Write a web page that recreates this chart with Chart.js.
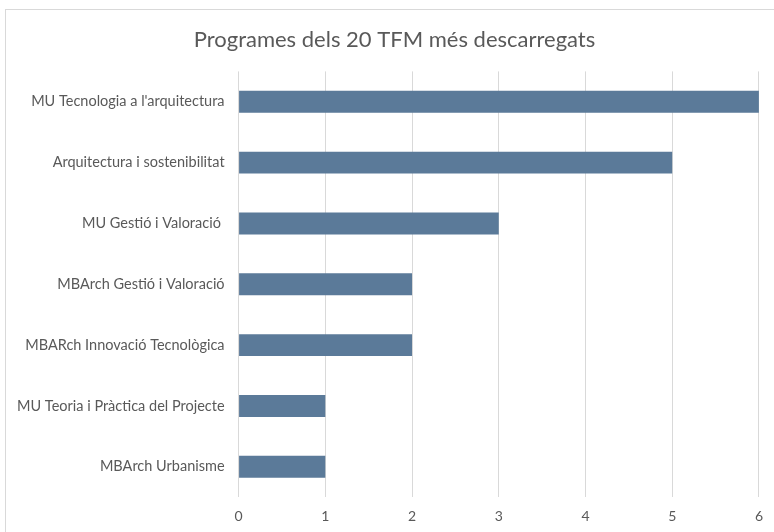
<!DOCTYPE html>
<html>
<head>
<meta charset="utf-8">
<script src="https://cdn.jsdelivr.net/npm/chart.js@4"></script>
<style>
html,body{margin:0;padding:0;background:#fff;width:774px;height:532px;overflow:hidden;}
#frame{position:absolute;left:5px;top:9px;width:800px;height:600px;border:1px solid #d9d9d9;box-sizing:border-box;}
#wrap{position:absolute;left:0;top:0;width:774px;height:532px;}
</style>
</head>
<body>
<div id="frame"></div>
<div id="wrap"><canvas id="c" width="774" height="532"></canvas></div>
<script>
const chartTitle = "Programes dels 20 TFM més descarregats";
const categories = [
  "MU Tecnologia a l'arquitectura",
  "Arquitectura i sostenibilitat",
  "MU Gestió i Valoració ",
  "MBArch Gestió i Valoració",
  "MBARch Innovació Tecnològica",
  "MU Teoria i Pràctica del Projecte",
  "MBArch Urbanisme"
];
const values = [6, 5, 3, 2, 2, 1, 1];
const xTicks = [0, 1, 2, 3, 4, 5, 6];

const titleShift = {
  id: 'titleShift',
  afterLayout(chart) {
    const t = chart.titleBlock;
    if (t) { t.left += 12; t.right += 12; }
  }
};

new Chart(document.getElementById('c'), {
  type: 'bar',
  data: {
    labels: categories,
    datasets: [{
      data: values,
      backgroundColor: '#5b7a99',
      borderColor: '#5b7a99',
      borderWidth: 0,
      barPercentage: 0.36,
      categoryPercentage: 1.0
    }]
  },
  plugins: [titleShift],
  options: {
    indexAxis: 'y',
    responsive: false,
    animation: false,
    layout: { padding: { left: 3, right: 12, top: 27, bottom: -4 } },
    plugins: {
      legend: { display: false },
      tooltip: { enabled: false },
      title: {
        display: true,
        text: chartTitle,
        color: '#595959',
        font: { family: 'Lato, "Open Sans", sans-serif', size: 22, weight: 'normal' },
        padding: { top: 0, bottom: 18 }
      }
    },
    scales: {
      x: {
        min: xTicks[0],
        max: xTicks[xTicks.length - 1],
        afterBuildTicks: (s) => { s.ticks = xTicks.map(v => ({ value: v })); },
        grid: { color: '#d9d9d9', lineWidth: 1, drawTicks: false },
        border: { display: false },
        ticks: {
          color: '#595959',
          font: { family: 'Lato, "Open Sans", sans-serif', size: 14 },
          padding: 11
        }
      },
      y: {
        grid: { display: false, drawTicks: false },
        border: { display: false },
        ticks: {
          color: '#595959',
          font: { family: 'Lato, "Open Sans", sans-serif', size: 14.5 },
          padding: 14
        }
      }
    }
  }
});
</script>
</body>
</html>
